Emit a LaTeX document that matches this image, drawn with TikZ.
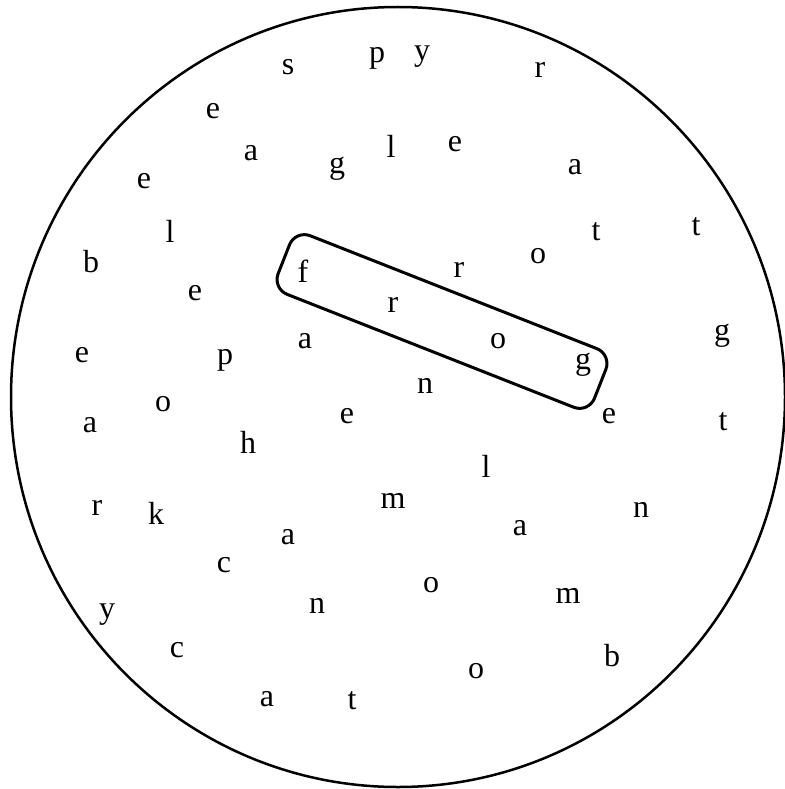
\documentclass[tikz,border=0pt]{standalone}
\usepackage{fontspec}
\setmainfont{Liberation Serif}
\usepackage{tikz}
\tikzset{
    letter/.style = {inner sep=0pt, anchor=base, font=\fontsize{32}{32}\selectfont},
    ring/.style = {draw=black, line width=2.5pt},
    wordbox/.style = {rectangle, rounded corners=16pt, minimum width=340pt, minimum height=63pt, draw=black, line width=3pt, rotate=-21.5}
}
\begin{document}
\begin{tikzpicture}[x=1pt, y=-1pt]
    \useasboundingbox (0,0) rectangle (784,789);

    % outer ring and the box round the word
    \draw [ring] (398,397) ellipse [x radius=387, y radius=390];
    \node [wordbox] (frogbox) at (442,321.5) {};

    % top
    \node [letter] (s1) at (288,75) {s};
    \node [letter] (p1) at (377,63) {p};
    \node [letter] (y1) at (422,61) {y};
    \node [letter] (r1) at (540,78) {r};
    \node [letter] (e1) at (213,118) {e};
    \node [letter] (a1) at (251,160) {a};
    \node [letter] (g1) at (337,173) {g};
    \node [letter] (l1) at (391,157) {l};
    \node [letter] (e2) at (455,151) {e};
    \node [letter] (a2) at (575,174) {a};
    \node [letter] (e3) at (144,188) {e};
    \node [letter] (l2) at (170,242) {l};
    \node [letter] (t1) at (596,240) {t};
    \node [letter] (t2) at (696,235) {t};
    \node [letter] (o1) at (538,263) {o};
    \node [letter] (r2) at (459,277) {r};
    \node [letter] (b1) at (91,272) {b};
    \node [letter] (e4) at (195,300) {e};

    % the word
    \node [letter] (f1) at (303,282) {f};
    \node [letter] (r3) at (393,312) {r};
    \node [letter] (o2) at (498,348) {o};
    \node [letter] (g3) at (583,369) {g};

    % middle
    \node [letter] (g2) at (722,340) {g};
    \node [letter] (e5) at (82,362) {e};
    \node [letter] (p2) at (225,364) {p};
    \node [letter] (a3) at (305,348) {a};
    \node [letter] (o3) at (163,411) {o};
    \node [letter] (a4) at (90,432) {a};
    \node [letter] (n1) at (425,393) {n};
    \node [letter] (e6) at (347,423) {e};
    \node [letter] (e7) at (609,423) {e};
    \node [letter] (t3) at (723,430) {t};
    \node [letter] (h1) at (248,453) {h};
    \node [letter] (l3) at (486,477) {l};

    % bottom
    \node [letter] (r4) at (97,515) {r};
    \node [letter] (k1) at (156,524) {k};
    \node [letter] (m1) at (393,508) {m};
    \node [letter] (a5) at (288,544) {a};
    \node [letter] (n2) at (641,517) {n};
    \node [letter] (a6) at (520,535) {a};
    \node [letter] (c1) at (224,572) {c};
    \node [letter] (o4) at (431,592) {o};
    \node [letter] (m2) at (568,603) {m};
    \node [letter] (y2) at (107,618) {y};
    \node [letter] (n3) at (317,613) {n};
    \node [letter] (c2) at (177,657) {c};
    \node [letter] (b2) at (612,666) {b};
    \node [letter] (o5) at (476,678) {o};
    \node [letter] (a7) at (267,706) {a};
    \node [letter] (t4) at (352,709) {t};
\end{tikzpicture}
\end{document}
